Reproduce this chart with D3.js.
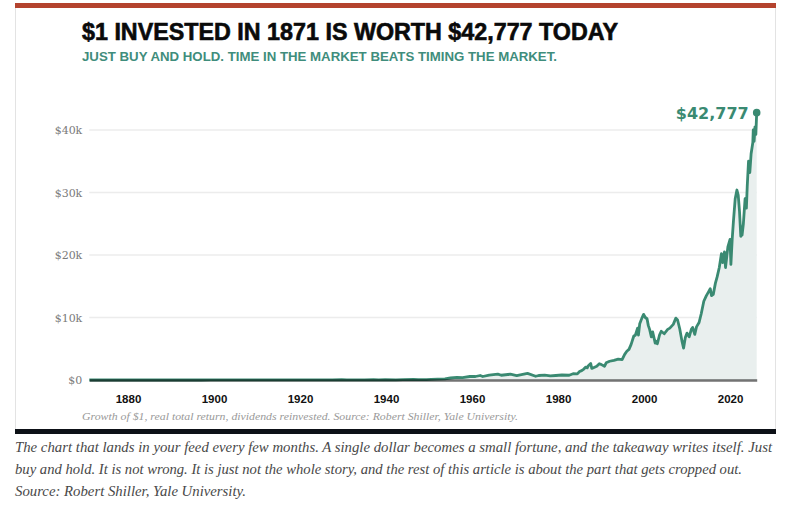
<!DOCTYPE html>
<html>
<head>
<meta charset="utf-8">
<script src="https://cdn.jsdelivr.net/npm/d3@7"></script>
<style>
  html, body { margin: 0; padding: 0; background: #fff; }
  svg { display: block; }
</style>
</head>
<body>
<svg id="chart" width="790" height="512"></svg>
<script>
// growth of $1, real total return
const early_years = [1871, 1872.5, 1873.9, 1877.5, 1881.4, 1884.6, 1886.8, 1890.9, 1892.4, 1893.6,
  1897.0, 1899.3, 1901.6, 1903.8, 1906.0, 1907.9, 1909.8, 1914.9, 1916.8, 1917.9,
  1920.9, 1925.0, 1927.5, 1929.7, 1930.9, 1932.5, 1933.6, 1935.0, 1937.1, 1938.3,
  1939.8, 1942.3, 1944.0, 1946.4, 1947.5, 1949.4, 1950.5, 1952.0, 1953.7, 1955.0,
  1956.5, 1957.8, 1959.5, 1960.8, 1961.9, 1962.5, 1964.0, 1966.0, 1966.8, 1968.9,
  1970.4, 1971.5, 1972.9, 1974.8, 1975.5, 1976.9, 1978.2, 1979.5, 1980.9, 1982.6,
  1983.5, 1984.5];
const early_values = [1, 1.15, 1.05, 1.3, 2.6, 2.1, 2.9, 3.0, 3.6, 2.9,
  4.0, 5.6, 6.4, 5.3, 8.1, 5.8, 8.6, 7.9, 9.6, 6.3,
  8, 16, 28, 60, 35, 14, 28, 30, 52, 30,
  40, 30, 45, 80, 62, 72, 100, 150, 170, 320,
  430, 380, 560, 560, 720, 560, 780, 950, 760, 930,
  700, 860, 1050, 600, 720, 780, 650, 720, 800, 760,
  1000, 980];

const late_years = [1985.0, 1985.5, 1986.0, 1986.4, 1986.8, 1987.0, 1987.6, 1987.85, 1988.5, 1989.0,
  1989.6, 1990.0, 1990.8, 1991.2, 1992.0, 1993.0, 1994.0, 1994.9, 1995.5, 1996.0,
  1996.5, 1997.0, 1997.6, 1998.0, 1998.5, 1998.7, 1999.0, 1999.5, 1999.9, 2000.3,
  2000.7, 2001.0, 2001.3, 2001.7, 2002.0, 2002.6, 2002.8, 2003.1, 2003.6, 2004.0,
  2004.7, 2005.5, 2006.0, 2006.8, 2007.4, 2007.8, 2008.3, 2008.8, 2009.2, 2009.6,
  2010.0, 2010.5, 2011.0, 2011.3, 2011.8, 2012.2, 2012.8, 2013.3, 2013.9, 2014.5,
  2015.0, 2015.4, 2015.7, 2016.1, 2016.6, 2017.0, 2017.5, 2018.0, 2018.3, 2018.7,
  2018.95, 2019.5, 2020.0, 2020.2, 2020.5, 2020.8, 2021.2, 2021.6, 2021.9, 2022.2,
  2022.5, 2022.7, 2022.8, 2023.1, 2023.5, 2023.8, 2024.0, 2024.3, 2024.6, 2024.9,
  2025.3, 2025.4, 2025.6, 2025.8, 2026.0, 2026.2];
const late_values = [1350, 1500, 1750, 2050, 1950, 2250, 2650, 1850, 2050, 2200,
  2600, 2500, 2200, 2750, 3000, 3150, 3350, 3250, 4100, 4600,
  4900, 5700, 7000, 7200, 8300, 7200, 9000, 9900, 10500, 10000,
  9800, 8700, 8100, 6900, 7700, 5900, 6200, 5800, 7200, 7800,
  7400, 8100, 8300, 8900, 9900, 9600, 8200, 6300, 5100, 6800,
  7500, 6900, 8100, 8400, 7300, 8500, 9200, 10600, 12600, 13500,
  14100, 14600, 13500, 13700, 15500, 16500, 18000, 20200, 18800, 20500,
  18000, 21300, 22500, 18500, 22500, 25500, 29000, 30400, 29600, 27000,
  23000, 24500, 23200, 25000, 29000, 27500, 31000, 35000, 33200, 36200,
  38000, 40000, 38200, 40500, 39300, 42777];

const y_ticks = [0, 10000, 20000, 30000, 40000];
const x_ticks = [1880, 1900, 1920, 1940, 1960, 1980, 2000, 2020];

const title_text = "$1 INVESTED IN 1871 IS WORTH $42,777 TODAY";
const subtitle_text = "JUST BUY AND HOLD. TIME IN THE MARKET BEATS TIMING THE MARKET.";
const note_text = "Growth of $1, real total return, dividends reinvested. Source: Robert Shiller, Yale University.";
const caption_lines = [
  "The chart that lands in your feed every few months. A single dollar becomes a small fortune, and the takeaway writes itself. Just",
  "buy and hold. It is not wrong. It is just not the whole story, and the rest of this article is about the part that gets cropped out.",
  "Source: Robert Shiller, Yale University.",
];

const green = "#3a8a72";
const fill_colour = "#e9efee";

window.addEventListener("load", () => {
  const series = early_years
    .map((yr, i) => ({ year: yr, value: early_values[i] }))
    .concat(late_years.map((yr, i) => ({ year: yr, value: late_values[i] })));
  const last = series[series.length - 1];

  const svg = d3.select("#chart");

  // card
  svg.append("rect")
    .attr("x", 15.5).attr("y", 3.5)
    .attr("width", 760).attr("height", 430)
    .attr("fill", "#fff").attr("stroke", "#e3e3e3");
  svg.append("rect")
    .attr("x", 15).attr("y", 3).attr("width", 761).attr("height", 5)
    .attr("fill", "#b4432e");
  svg.append("rect")
    .attr("x", 15).attr("y", 429).attr("width", 761).attr("height", 5)
    .attr("fill", "#0d1117");

  svg.append("text")
    .attr("x", 82).attr("y", 39.5)
    .attr("font-family", "'Liberation Sans Narrow', 'Liberation Sans', Arial, sans-serif")
    .attr("font-weight", "bold")
    .attr("font-size", 23)
    .attr("fill", "#0a0a0a")
    .attr("stroke", "#0a0a0a")
    .attr("stroke-width", 0.6)
    .attr("textLength", 536)
    .attr("lengthAdjust", "spacingAndGlyphs")
    .text(title_text);

  svg.append("text")
    .attr("x", 82).attr("y", 61)
    .attr("font-family", "'Liberation Sans Narrow', 'Liberation Sans', Arial, sans-serif")
    .attr("font-weight", "bold")
    .attr("font-size", 12)
    .attr("fill", "#3f8d7c")
    .attr("textLength", 475)
    .attr("lengthAdjust", "spacingAndGlyphs")
    .text(subtitle_text);

  const x = d3.scaleLinear().domain([1871, 2026.2]).range([89.3, 756.7]);
  const y = d3.scaleLinear().domain([0, 40000]).range([380, 130]);

  // gridlines
  svg.append("g")
    .selectAll("line")
    .data(y_ticks.slice(1))
    .join("line")
    .attr("x1", x.range()[0]).attr("x2", x.range()[1])
    .attr("y1", (d) => y(d)).attr("y2", (d) => y(d))
    .attr("stroke", "#ececec")
    .attr("stroke-width", 1.5);

  // y axis labels
  const y_axis = svg.append("g")
    .attr("transform", `translate(${x.range()[0]},0)`)
    .call(d3.axisLeft(y).tickValues(y_ticks).tickSize(0).tickPadding(7)
      .tickFormat((d) => "$" + (d === 0 ? "0" : d / 1000 + "k")));
  y_axis.select(".domain").remove();
  y_axis.selectAll("text")
    .attr("font-family", "'DejaVu Serif', Georgia, serif")
    .attr("font-size", 11)
    .attr("fill", "#7a7a7a");

  // area + line
  svg.append("path")
    .datum(series)
    .attr("fill", fill_colour)
    .attr("d", d3.area().x((d) => x(d.year)).y0(y(0)).y1((d) => y(d.value)));

  svg.append("path")
    .datum(series)
    .attr("fill", "none")
    .attr("stroke", green)
    .attr("stroke-width", 2.8)
    .attr("stroke-linejoin", "round")
    .attr("d", d3.line().x((d) => x(d.year)).y((d) => y(d.value)));

  // x axis (drawn over the line so the overlap darkens)
  const x_axis = svg.append("g")
    .attr("transform", `translate(0,${y(0)})`)
    .call(d3.axisBottom(x).tickValues(x_ticks).tickSize(0).tickSizeOuter(0).tickPadding(15)
      .tickFormat(d3.format("d")));
  x_axis.select(".domain")
    .attr("stroke", "#000")
    .attr("stroke-opacity", 0.55)
    .attr("stroke-width", 2.5);
  x_axis.selectAll("text")
    .attr("font-family", "'Liberation Sans', Arial, sans-serif")
    .attr("font-weight", "bold")
    .attr("font-size", 11.5)
    .attr("fill", "#111");

  // end point
  svg.append("circle")
    .attr("cx", x(last.year)).attr("cy", y(last.value))
    .attr("r", 3.8)
    .attr("fill", green);
  svg.append("text")
    .attr("x", x(last.year) - 8).attr("y", y(last.value) + 6)
    .attr("text-anchor", "end")
    .attr("font-family", "'DejaVu Sans', Verdana, sans-serif")
    .attr("font-weight", "bold")
    .attr("font-size", 16)
    .attr("fill", green)
    .text("$" + d3.format(",")(last.value));

  svg.append("text")
    .attr("x", 82).attr("y", 419.5)
    .attr("font-family", "'Liberation Serif', Georgia, serif")
    .attr("font-style", "italic")
    .attr("font-size", 11)
    .attr("fill", "#999")
    .attr("textLength", 436)
    .attr("lengthAdjust", "spacingAndGlyphs")
    .text(note_text);

  // caption under the card
  const caption_widths = [757, 727, 231];
  svg.append("g")
    .selectAll("text")
    .data(caption_lines)
    .join("text")
    .attr("x", 15)
    .attr("y", (d, i) => 452 + i * 22)
    .attr("font-family", "'Liberation Serif', Georgia, serif")
    .attr("font-style", "italic")
    .attr("font-size", 15)
    .attr("fill", "#484848")
    .attr("textLength", (d, i) => caption_widths[i])
    .attr("lengthAdjust", "spacingAndGlyphs")
    .text((d) => d);
});
</script>
</body>
</html>
